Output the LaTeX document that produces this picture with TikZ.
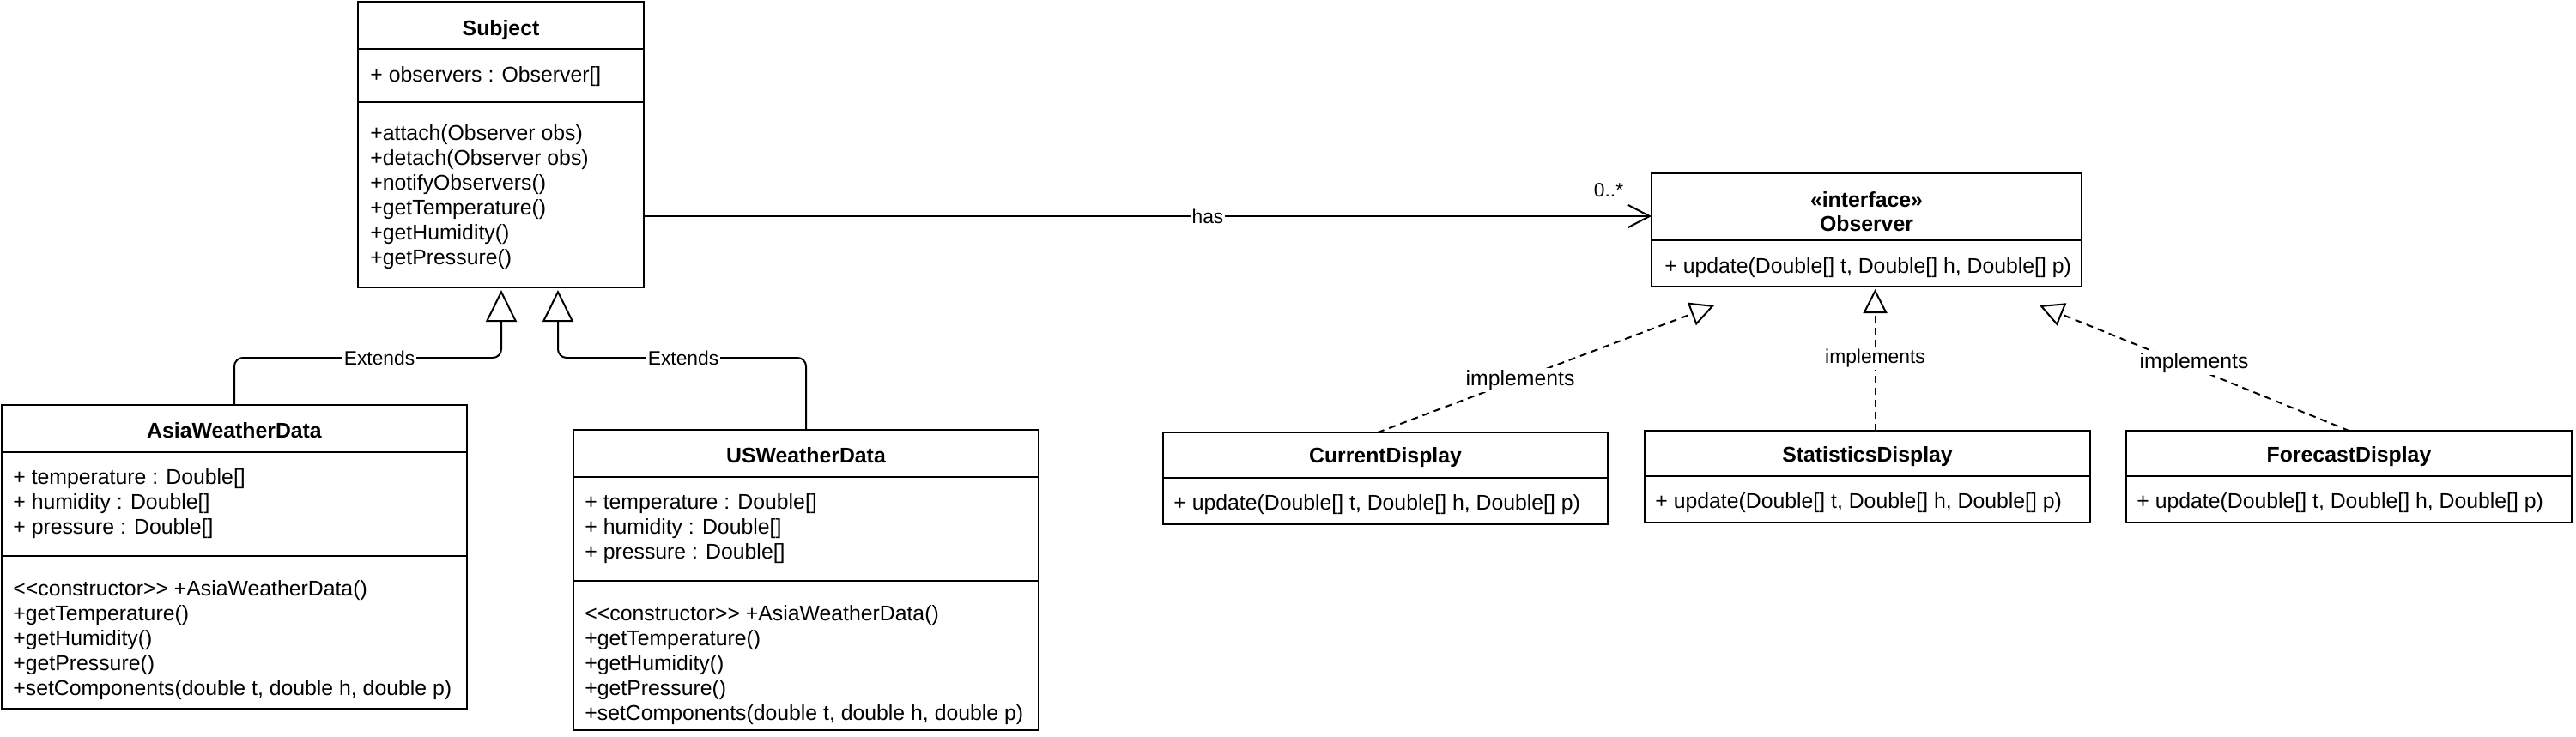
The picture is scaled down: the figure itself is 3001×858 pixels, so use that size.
\documentclass[tikz,border=0pt]{standalone}
\usepackage{fontspec}
\setmainfont{Liberation Sans}
\usetikzlibrary{arrows.meta,calc}
\begin{document}
\begin{tikzpicture}[x=0.5pt,y=-0.5pt,
  box/.style={draw, line width=1pt, inner sep=0pt, outer sep=0pt, anchor=north west},
  txt/.style={anchor=base west, inner sep=0pt, font=\fontsize{12.4}{14}\selectfont},
  ttl/.style={anchor=base, inner sep=0pt, font=\fontsize{12.4}{14}\selectfont\bfseries},
  lbl/.style={fill=white, inner sep=1pt, font=\fontsize{11.4}{13}\selectfont},
  lblbig/.style={fill=white, inner sep=1pt, font=\fontsize{12.4}{14}\selectfont},
  conn/.style={line width=1pt},
  gen/.style={conn, rounded corners=5pt, -{Triangle[open, length=18.5pt, width=18pt]}},
  real/.style={conn, dash pattern=on 4pt off 3pt, -{Triangle[open, length=14pt, width=14pt]}},
  assoc/.style={conn, -{Straight Barb[length=12.5pt, width=13pt]}},
]
\useasboundingbox (0,0) rectangle (3001,858);

% ---------- class boxes ----------
\node[box, minimum width=166.5pt, minimum height=166.5pt] (subject) at (417,2) {};
\node[box, minimum width=271pt, minimum height=177pt] (asia) at (2,472) {};
\node[box, minimum width=271pt, minimum height=175pt] (us) at (668,501) {};
\node[box, minimum width=250.5pt, minimum height=66pt] (observer) at (1924,202) {};
\node[box, minimum width=259pt, minimum height=53.5pt] (current) at (1355,504) {};
\node[box, minimum width=259.5pt, minimum height=53.5pt] (stats) at (1916,502) {};
\node[box, minimum width=259.5pt, minimum height=53.5pt] (forecast) at (2477,502) {};

% compartment dividers
\draw[conn] (417,57) -- (750,57);
\draw[conn] (417,119) -- (750,119);
\draw[conn] (2,527) -- (544,527);
\draw[conn] (2,648) -- (544,648);
\draw[conn] (668,556) -- (1210,556);
\draw[conn] (668,677) -- (1210,677);
\draw[conn] (1924,280) -- (2425,280);
\draw[conn] (1355,557) -- (1873,557);
\draw[conn] (1916,555) -- (2435,555);
\draw[conn] (2477,555) -- (2996,555);

% ---------- Subject ----------
\node[ttl] (subjT) at (583.5,41) {Subject};
\node[txt] (subjA) at (431,95) {+ observers : Observer[]};
\node[txt] (subjM1) at (431,163) {+attach(Observer obs)};
\node[txt] (subjM2) at (431,192) {+detach(Observer obs)};
\node[txt] (subjM3) at (431,221) {+notifyObservers()};
\node[txt] (subjM4) at (431,250) {+getTemperature()};
\node[txt] (subjM5) at (431,279) {+getHumidity()};
\node[txt] (subjM6) at (431,308) {+getPressure()};

% ---------- AsiaWeatherData ----------
\node[ttl] (asiaT) at (273,510) {AsiaWeatherData};
\node[txt] (asiaA1) at (15,564) {+ temperature : Double[]};
\node[txt] (asiaA2) at (15,593) {+ humidity : Double[]};
\node[txt] (asiaA3) at (15,622) {+ pressure : Double[]};
\node[txt] (asiaM1) at (15,694) {<\kern0pt<constructor>\kern0pt> +AsiaWeatherData()};
\node[txt] (asiaM2) at (15,723) {+getTemperature()};
\node[txt] (asiaM3) at (15,752) {+getHumidity()};
\node[txt] (asiaM4) at (15,781) {+getPressure()};
\node[txt] (asiaM5) at (15,810) {+setComponents(double t, double h, double p)};

% ---------- USWeatherData ----------
\node[ttl] (usT) at (939,539) {USWeatherData};
\node[txt] (usA1) at (681,593) {+ temperature : Double[]};
\node[txt] (usA2) at (681,622) {+ humidity : Double[]};
\node[txt] (usA3) at (681,651) {+ pressure : Double[]};
\node[txt] (usM1) at (681,723) {<\kern0pt<constructor>\kern0pt> +AsiaWeatherData()};
\node[txt] (usM2) at (681,752) {+getTemperature()};
\node[txt] (usM3) at (681,781) {+getHumidity()};
\node[txt] (usM4) at (681,810) {+getPressure()};
\node[txt] (usM5) at (681,839) {+setComponents(double t, double h, double p)};

% ---------- Observer ----------
\node[ttl] (obsS) at (2174.5,241) {«interface»};
\node[ttl] (obsT) at (2174.5,269) {Observer};
\node[txt] (obsM) at (1939,318) {+ update(Double[] t, Double[] h, Double[] p)};

% ---------- displays ----------
\node[ttl] (curT) at (1614,539) {CurrentDisplay};
\node[txt] (curM) at (1367,594) {+ update(Double[] t, Double[] h, Double[] p)};
\node[ttl] (staT) at (2175.5,538) {StatisticsDisplay};
\node[txt] (staM) at (1928,592) {+ update(Double[] t, Double[] h, Double[] p)};
\node[ttl] (forT) at (2736.5,538) {ForecastDisplay};
\node[txt] (forM) at (2489,592) {+ update(Double[] t, Double[] h, Double[] p)};

% ---------- connectors ----------
\coordinate (tipA) at (584,338);
\coordinate (tipB) at (650,338);
\draw[gen] (asia.north) -- (273,417) -- (584,417) -- (tipA);
\draw[gen] (us.north) -- (939,417) -- (650,417) -- (tipB);
\node[lbl] (ext1) at (442,417) {Extends};
\node[lbl] (ext2) at (796,417) {Extends};

\coordinate (hasy) at (0,252);
\draw[assoc] (subject.east |- hasy) -- (observer.west |- hasy);
\node[lbl] (has) at (1407,252) {has};
\node[inner sep=0pt, font=\fontsize{11.4}{13}\selectfont] (mult) at (1874,222) {0..*};

\coordinate (tipC) at (1997,356);
\coordinate (tipD) at (2184.5,337);
\coordinate (tipE) at (2376,356);
\draw[real] ($(current.north)+(-9,0)$) -- (tipC);
\draw[real] ($(stats.north)+(9,0)$) -- (tipD);
\draw[real] (forecast.north) -- (tipE);
\node[lblbig] (imp1) at (1771,443) {implements};
\node[lbl] (imp2) at (2184.5,418) {implements};
\node[lblbig] (imp3) at (2556,423) {implements};
\end{tikzpicture}
\end{document}
